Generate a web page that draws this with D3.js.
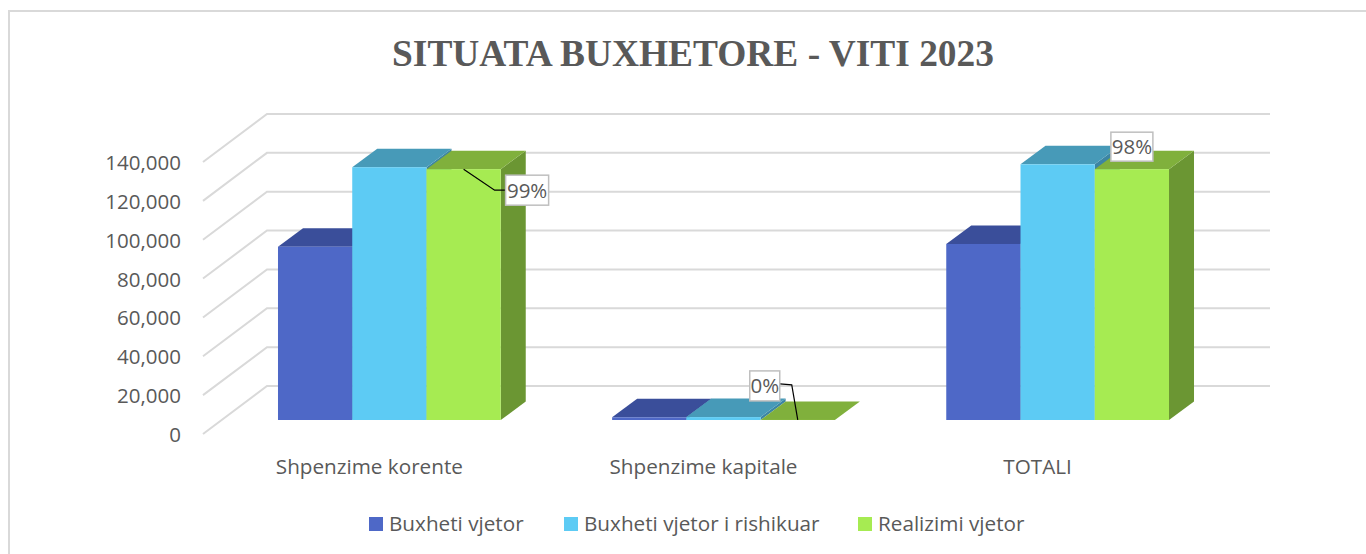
<!DOCTYPE html>
<html>
<head>
<meta charset="utf-8">
<script src="https://cdn.jsdelivr.net/npm/d3@7"></script>
<style>
  html, body { margin: 0; padding: 0; background: #fff; }
  svg { display: block; }
  text { font-family: "Open Sans", sans-serif; fill: #595959; }
</style>
</head>
<body>
<div id="chart"></div>
<script>
var categories = [ "Shpenzime korente", "Shpenzime kapitale", "TOTALI" ];
var seriesNames = [ "Buxheti vjetor", "Buxheti vjetor i rishikuar", "Realizimi vjetor" ];
var buxhetiVjetor = [ 89200, 1400, 90600 ];
var buxhetiRishikuar = [ 130100, 1500, 131600 ];
var realizimiVjetor = [ 129100, 50, 129100 ];
var yTicks = [ 0, 20000, 40000, 60000, 80000, 100000, 120000, 140000 ];
var pctLabels = [ "99%", "0%", "98%" ];

var frontColors = [ "#4e68c7", "#5dcbf4", "#a6eb52" ];
var topColors = [ "#3a4e9a", "#479ab8", "#80b03c" ];
var sideColors = [ "#2f4180", "#3c85a3", "#6b9633" ];

var width = 1366, height = 554;
// 3D look: walls go back by this much, bars stand part way in
var wallDx = 64, wallDy = -48;
var barDx = 25, barDy = -18.5, barLift = -14;

var svg = d3.select( "#chart" ).append( "svg" )
  .attr( "width", width ).attr( "height", height );

svg.append( "path" )
  .attr( "d", "M9,554V11H1366" )
  .attr( "fill", "none" )
  .attr( "stroke", "#d9d9d9" )
  .attr( "stroke-width", 2 );

svg.append( "text" )
  .attr( "x", 693 ).attr( "y", 66 )
  .attr( "text-anchor", "middle" )
  .style( "font-family", "'Liberation Serif', serif" )
  .style( "font-weight", "bold" )
  .style( "font-size", "37.4px" )
  .text( "SITUATA BUXHETORE - VITI 2023" );

var y = d3.scaleLinear().domain( [ 0, 140000 ] ).range( [ 434, 162 ] );
var x = d3.scaleBand().domain( categories ).range( [ 222.3, 1224.7 ] )
  .paddingInner( 1 / 3 ).paddingOuter( 1 / 6 );
var xBar = d3.scaleBand().domain( d3.range( 3 ) ).range( [ 0, x.bandwidth() ] );

// gridlines
var gridLeft = 203, gridRight = 1270;
svg.append( "g" ).selectAll( "path" ).data( yTicks ).join( "path" )
  .attr( "d", function( d ) {
    var y0 = y( d );
    return "M" + gridLeft + "," + y0 + "L" + ( gridLeft + wallDx ) + "," + ( y0 + wallDy ) +
      "H" + gridRight;
  } )
  .attr( "fill", "none" )
  .attr( "stroke", "#d9d9d9" )
  .attr( "stroke-width", 2 );

// y axis
var axis = svg.append( "g" )
  .attr( "transform", "translate(181,1)" )
  .call( d3.axisLeft( y ).tickValues( yTicks ).tickSize( 0 ).tickPadding( 0 ).tickFormat( d3.format( "," ) ) );
axis.select( ".domain" ).remove();
axis.selectAll( "text" ).style( "font-size", "20.5px" ).style( "font-family", null ).attr( "fill", null );
axis.attr( "font-family", null ).attr( "font-size", null );

// bars
var seriesValues = [ buxhetiVjetor, buxhetiRishikuar, realizimiVjetor ];
var base = y( 0 ) + barLift;
var barHeight = function( v ) { return y( 0 ) - y( v ); };
var bars = [];
categories.forEach( function( c, i ) {
  seriesValues.forEach( function( values, s ) {
    bars.push( { cat: c, series: s, value: values[ i ] } );
  } );
} );

var barG = svg.append( "g" ).selectAll( "g" ).data( bars ).join( "g" );
barG.append( "path" ) // side face
  .attr( "fill", function( d ) { return sideColors[ d.series ]; } )
  .attr( "d", function( d ) {
    var x1 = x( d.cat ) + xBar( d.series ) + xBar.bandwidth();
    var top = base - barHeight( d.value );
    return "M" + x1 + "," + base + "V" + top + "l" + barDx + "," + barDy +
      "V" + ( base + barDy ) + "Z";
  } );
barG.append( "path" ) // top face
  .attr( "fill", function( d ) { return topColors[ d.series ]; } )
  .attr( "d", function( d ) {
    var x0 = x( d.cat ) + xBar( d.series );
    var top = base - barHeight( d.value );
    return "M" + x0 + "," + top + "l" + barDx + "," + barDy + "h" + xBar.bandwidth() +
      "l" + ( -barDx ) + "," + ( -barDy ) + "Z";
  } );
barG.append( "rect" ) // front face
  .attr( "fill", function( d ) { return frontColors[ d.series ]; } )
  .attr( "x", function( d ) { return x( d.cat ) + xBar( d.series ); } )
  .attr( "y", function( d ) { return base - barHeight( d.value ); } )
  .attr( "width", xBar.bandwidth() )
  .attr( "height", function( d ) { return barHeight( d.value ); } );

// category labels sit a bit left of the bars, as in the original
svg.append( "g" ).selectAll( "text" ).data( categories ).join( "text" )
  .attr( "x", function( d ) { return x( d ) + x.bandwidth() / 2 - 20; } )
  .attr( "y", 474 )
  .attr( "text-anchor", "middle" )
  .style( "font-size", "20.7px" )
  .text( function( d ) { return d; } );

// callouts on the realizimi bars: box offset from the bar's top middle, then the leader
var callouts = [
  { i: 0, bx: 42, by: 6, w: 43, h: 30, leader: [ [ 0, 0 ], [ 31, 21 ], [ 42, 21 ] ] },
  { i: 1, bx: -48, by: -49, w: 30, h: 30, leader: [ [ 0, 0 ], [ -6, -35 ], [ -18, -36 ] ] },
  { i: 2, bx: -21, by: -37, w: 42, h: 29, leader: null }
];
var labelG = svg.append( "g" ).selectAll( "g" ).data( callouts ).join( "g" )
  .attr( "transform", function( d ) {
    var c = categories[ d.i ];
    var cx = x( c ) + xBar( 2 ) + xBar.bandwidth() / 2;
    return "translate(" + cx + "," + ( base - barHeight( realizimiVjetor[ d.i ] ) ) + ")";
  } );
labelG.filter( function( d ) { return d.leader; } ).append( "path" )
  .attr( "d", function( d ) { return d3.line()( d.leader ); } )
  .attr( "fill", "none" )
  .attr( "stroke", "#000" )
  .attr( "stroke-width", 1.2 );
labelG.append( "rect" )
  .attr( "x", function( d ) { return d.bx; } )
  .attr( "y", function( d ) { return d.by; } )
  .attr( "width", function( d ) { return d.w; } )
  .attr( "height", function( d ) { return d.h; } )
  .attr( "fill", "#fff" )
  .attr( "stroke", "#bfbfbf" )
  .attr( "stroke-width", 1.5 );
labelG.append( "text" )
  .attr( "x", function( d ) { return d.bx + d.w / 2; } )
  .attr( "y", function( d ) { return d.by + d.h / 2 + 7.5; } )
  .attr( "text-anchor", "middle" )
  .style( "font-size", "20.5px" )
  .text( function( d ) { return pctLabels[ d.i ]; } );

// legend
var legendX = d3.scaleOrdinal().domain( seriesNames ).range( [ 369, 564, 858 ] );
var legend = svg.append( "g" ).selectAll( "g" ).data( seriesNames ).join( "g" )
  .attr( "transform", function( d ) { return "translate(" + legendX( d ) + ",517)"; } );
legend.append( "rect" )
  .attr( "width", 14 ).attr( "height", 14 )
  .attr( "fill", function( d, i ) { return frontColors[ i ]; } );
legend.append( "text" )
  .attr( "x", 20 ).attr( "y", 14 )
  .style( "font-size", "20.7px" )
  .text( function( d ) { return d; } );
</script>
</body>
</html>
